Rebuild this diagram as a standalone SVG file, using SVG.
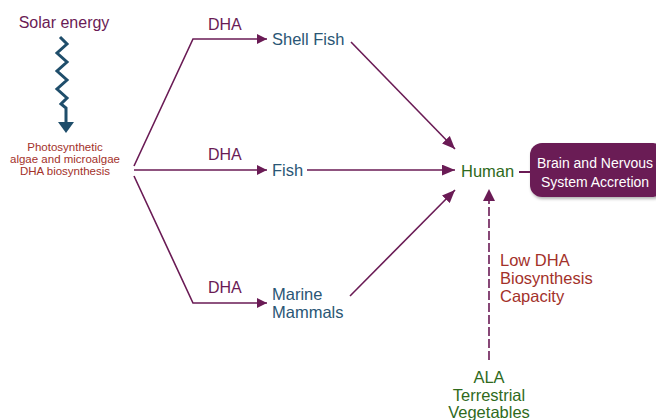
<svg xmlns="http://www.w3.org/2000/svg" width="656" height="420" viewBox="0 0 656 420">
<defs>
<marker id="ah" viewBox="0 0 10 10" refX="10" refY="5" markerWidth="10" markerHeight="10" markerUnits="userSpaceOnUse" orient="auto">
<path d="M0,0 L10,5 L0,10 z" fill="#6a1b55"/>
</marker>
<marker id="ahb" viewBox="0 0 12 10" refX="12" refY="5" markerWidth="13" markerHeight="11" markerUnits="userSpaceOnUse" orient="auto">
<path d="M0,0 L12,5 L0,10 z" fill="#6a1b55"/>
</marker>
<filter id="sh" x="-10%" y="-10%" width="130%" height="140%">
<feDropShadow dx="1" dy="2" stdDeviation="1.5" flood-color="#000" flood-opacity="0.3"/>
</filter>
</defs>
<style>
text{font-family:"Liberation Sans",Arial,sans-serif}
.ln{fill:none;stroke:#6a1b55;stroke-width:1.6}
.dha{font-size:16px;fill:#6a1b55}
.blue{font-size:16.5px;fill:#2a5675}
.red{font-size:16.5px;fill:#a3312a}
.green{font-size:16.5px;fill:#2f6a1c}
.small{font-size:11.5px;fill:#a3312a}
</style>
<rect width="656" height="420" fill="#fff"/>
<g id="solar">
<text x="64" y="28" text-anchor="middle" style="font-size:16px;fill:#6a1b55">Solar energy</text>
</g>
<g id="algae">
<text x="65" y="151" text-anchor="middle" class="small">Photosynthetic</text>
<text x="65" y="163" text-anchor="middle" class="small">algae and microalgae</text>
<text x="65" y="175" text-anchor="middle" class="small">DHA biosynthesis</text>
</g>
<g id="shellfish"><text x="272" y="45" class="blue">Shell Fish</text></g>
<g id="fish"><text x="272" y="176" class="blue">Fish</text></g>
<g id="marine"><text x="272" y="300" class="blue">Marine</text><text x="272" y="318" class="blue">Mammals</text></g>
<g id="human"><text x="461" y="177" class="green">Human</text></g>
<g id="brain">
<rect x="530" y="143" width="135" height="54" rx="12" fill="#6a1b55" filter="url(#sh)"/>
<text x="595" y="168" text-anchor="middle" style="font-size:14px;fill:#fff">Brain and Nervous</text>
<text x="595" y="187" text-anchor="middle" style="font-size:14px;fill:#fff">System Accretion</text>
</g>
<g id="ala">
<text x="489" y="383" text-anchor="middle" class="green">ALA</text>
<text x="489" y="401" text-anchor="middle" class="green">Terrestrial</text>
<text x="489" y="418" text-anchor="middle" class="green">Vegetables</text>
</g>
<g id="lowdha">
<text x="500" y="266" class="red">Low DHA</text>
<text x="500" y="284" class="red">Biosynthesis</text>
<text x="500" y="302" class="red">Capacity</text>
</g>
<g id="labels">
<text x="208" y="30" class="dha">DHA</text>
<text x="208" y="160" class="dha">DHA</text>
<text x="208" y="293" class="dha">DHA</text>
</g>
<g id="connectors">
<polyline points="60,37 67,44 57,53 67,62 57,71 67,80 57,89 67,98 61,104 66,108 66,122" fill="none" stroke="#1f4e6b" stroke-width="3" stroke-linejoin="miter"/>
<path d="M58,122 L74,122 L66,133 z" fill="#1f4e6b"/>
<polyline class="ln" points="134,166 193,39 267,39" marker-end="url(#ah)"/>
<line class="ln" x1="134" y1="170" x2="267" y2="170" marker-end="url(#ah)"/>
<polyline class="ln" points="134,176 193,303 267,303" marker-end="url(#ah)"/>
<line class="ln" x1="351" y1="42" x2="455" y2="149" marker-end="url(#ahb)"/>
<line class="ln" x1="307" y1="170" x2="455" y2="170" marker-end="url(#ahb)"/>
<line class="ln" x1="350" y1="296" x2="455" y2="190" marker-end="url(#ahb)"/>
<line x1="519" y1="172" x2="530" y2="172" stroke="#6a1b55" stroke-width="2"/>
<line x1="489" y1="360" x2="489" y2="199" stroke="#6a1b55" stroke-width="1.6" stroke-dasharray="9,3"/>
<path d="M483,201 L495,201 L489,189 z" fill="#6a1b55"/>
</g>
</svg>
